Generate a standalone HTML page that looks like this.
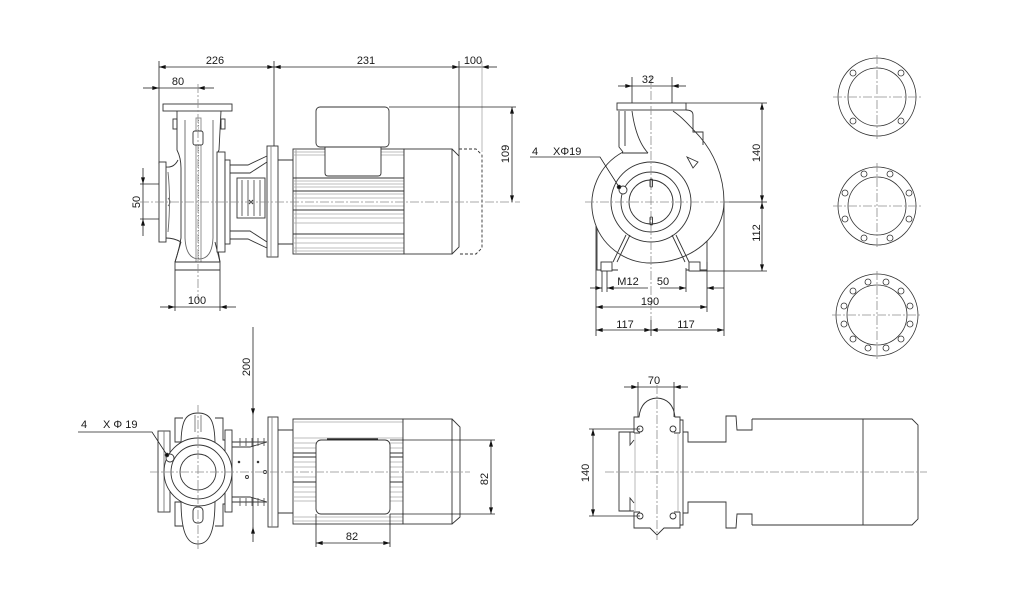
<!DOCTYPE html>
<html><head><meta charset="utf-8"><style>
html,body{margin:0;padding:0;background:#fff;}
svg{display:block;}
text{font-family:"Liberation Sans",sans-serif;font-size:11px;fill:#1a1a1a;}
.c{stroke:#8c8c8c;stroke-width:0.8;stroke-dasharray:9 2 2 2;fill:none;}
.d{stroke:#222;stroke-width:0.8;fill:none;}
.g{stroke:#a8a8a8;stroke-width:0.8;fill:none;}
.w{fill:#fff;}
</style></head><body>
<svg width="1034" height="611" viewBox="0 0 1034 611" xmlns="http://www.w3.org/2000/svg">
<defs>
<marker id="ar" viewBox="0 0 10 6" refX="10" refY="3" markerWidth="7" markerHeight="4" markerUnits="userSpaceOnUse" orient="auto-start-reverse"><path d="M0,0L10,3L0,6z" fill="#111"/></marker>
</defs>

<!-- ================= TOP-LEFT SIDE VIEW ================= -->
<g fill="none" stroke="#333" stroke-width="0.9">
  <line class="d" x1="159" y1="67" x2="274" y2="67" marker-start="url(#ar)" marker-end="url(#ar)"/>
  <line class="d" x1="274" y1="67" x2="459" y2="67" marker-start="url(#ar)" marker-end="url(#ar)"/>
  <line class="d" x1="459" y1="67" x2="482" y2="67"/>
  <line class="d" x1="497" y1="67" x2="482" y2="67" marker-end="url(#ar)"/>
  <line class="d" x1="159" y1="61" x2="159" y2="164"/>
  <line class="d" x1="274" y1="61" x2="274" y2="146"/>
  <line class="d" x1="459" y1="61" x2="459" y2="156"/>
  <line class="g" x1="482" y1="61" x2="482" y2="152"/>
  <line class="d" x1="143" y1="88" x2="159" y2="88" marker-end="url(#ar)"/>
  <line class="d" x1="159" y1="88" x2="198" y2="88"/>
  <line class="d" x1="214" y1="88" x2="198" y2="88" marker-end="url(#ar)"/>
  <line class="d" x1="143" y1="168" x2="143" y2="184" marker-end="url(#ar)"/>
  <line class="d" x1="143" y1="184" x2="143" y2="219"/>
  <line class="d" x1="143" y1="236" x2="143" y2="219" marker-end="url(#ar)"/>
  <line class="d" x1="140" y1="184" x2="160" y2="184"/>
  <line class="d" x1="140" y1="219" x2="160" y2="219"/>
  <line class="d" x1="160" y1="307" x2="175" y2="307" marker-end="url(#ar)"/>
  <line class="d" x1="175" y1="307" x2="220" y2="307"/>
  <line class="d" x1="236" y1="307" x2="220" y2="307" marker-end="url(#ar)"/>
  <line class="d" x1="175" y1="262" x2="175" y2="311"/>
  <line class="d" x1="220" y1="262" x2="220" y2="311"/>
  <line class="d" x1="389" y1="107" x2="516" y2="107"/>
  <line class="d" x1="512" y1="107" x2="512" y2="202" marker-start="url(#ar)" marker-end="url(#ar)"/>

  <rect x="163" y="104" width="69" height="7" class="w"/>
  <path d="M177,111 L177,150 Q181,158 181,168 L181,238 Q179,250 175,262"/>
  <path d="M221,111 L219,150 L218,152 M218,250 L220,262"/>
  <path d="M185,120 L185,238 Q186,259 199,259 Q212,259 213,238 L213,120" stroke="#666"/>
  <rect x="159" y="162" width="7" height="80" class="w"/>
  <path d="M166,167 Q174,168 178,160 M166,238 Q174,238 181,242"/>
  <path d="M168,172 Q171,200 168,232 M168,198 Q172,202 168,206" stroke="#666"/>
  <rect x="173" y="119" width="4" height="10"/>
  <rect x="221" y="119" width="4" height="10"/>
  <rect x="196" y="118" width="5" height="144" stroke="#888"/>
  <line x1="198.5" y1="120" x2="198.5" y2="260" stroke="#777" stroke-dasharray="1 1.5"/>
  <rect x="193" y="131" width="10" height="14" rx="2" class="w"/>
  <line x1="181" y1="242" x2="175" y2="262"/>
  <line x1="215" y1="242" x2="220" y2="262"/>
  <line x1="175" y1="262" x2="220" y2="262"/>
  <line x1="175" y1="270" x2="220" y2="270"/>
  <rect x="217" y="152" width="8" height="100" class="w"/>
  <rect x="225" y="160" width="5" height="84" class="w"/>
  <path d="M230,165 L248,165 L267,156 M230,173 L250,173 L267,162 M230,239 L248,239 L267,248 M230,231 L250,231 L267,242"/>
  <rect x="237" y="178" width="28" height="40"/>
  <path d="M242,180 L242,216 M248,180 L248,216 M254,180 L254,216 M260,180 L260,216" stroke="#555"/>
  <path d="M249,200 L253,204 M253,200 L249,204"/>
  <rect x="267" y="146" width="11" height="111" class="w"/>
  <line x1="271" y1="146" x2="271" y2="257" stroke="#888"/>
  <path d="M278,160 L293,160 M278,244 L293,244"/>
  <rect x="293" y="149" width="111" height="105"/>
  <line x1="296" y1="149" x2="296" y2="254" stroke="#999"/>
  <path class="g" d="M293,152 L325,152 M381,152 L404,152 M293,155 L325,155 M381,155 L404,155"/>
  <path d="M293,178 L404,178 M293,191 L404,191 M293,210 L404,210 M293,234 L404,234"/>
  <path class="g" d="M293,181 L404,181 M293,184 L404,184 M293,187 L404,187 M293,194 L404,194 M293,198 L404,198 M293,206 L404,206 M293,214 L404,214 M293,218 L404,218 M293,223 L404,223 M293,238 L404,238 M293,243 L404,243 M293,248 L404,248 M293,251 L404,251"/>
  <path d="M325,147 L325,173 Q325,176 328,176 L378,176 Q381,176 381,173 L381,147" class="w"/>
  <rect x="316" y="107" width="73" height="40" rx="4" class="w"/>
  <rect x="404" y="149" width="48" height="105" class="w"/>
  <path d="M452,149 L459,156 L459,247 L452,254"/>
  <path d="M459,149 L476,149 L482,155 L482,248 L476,254 L459,254" stroke-dasharray="3 2"/>
  <line class="c" x1="140" y1="202" x2="520" y2="202"/>
  <line class="c" x1="198" y1="84" x2="198" y2="300"/>
</g>
<text x="215" y="64" text-anchor="middle">226</text>
<text x="366" y="64" text-anchor="middle">231</text>
<text x="473" y="64" text-anchor="middle">100</text>
<text x="178" y="85" text-anchor="middle">80</text>
<text transform="translate(140,202) rotate(-90)" text-anchor="middle">50</text>
<text x="197" y="304" text-anchor="middle">100</text>
<text transform="translate(509,154) rotate(-90)" text-anchor="middle">109</text>

<!-- ================= TOP-MIDDLE FRONT VIEW ================= -->
<g fill="none" stroke="#333" stroke-width="0.9">
  <line class="d" x1="618" y1="86" x2="632" y2="86" marker-end="url(#ar)"/>
  <line class="d" x1="632" y1="86" x2="672" y2="86"/>
  <line class="d" x1="686" y1="86" x2="672" y2="86" marker-end="url(#ar)"/>
  <line class="d" x1="632" y1="77" x2="632" y2="104"/>
  <line class="d" x1="672" y1="77" x2="672" y2="104"/>
  <line class="d" x1="686" y1="103" x2="767" y2="103"/>
  <line class="d" x1="724" y1="202" x2="767" y2="202"/>
  <line class="d" x1="690" y1="271" x2="767" y2="271"/>
  <line class="d" x1="762" y1="103" x2="762" y2="202" marker-start="url(#ar)" marker-end="url(#ar)"/>
  <line class="d" x1="762" y1="202" x2="762" y2="271" marker-start="url(#ar)" marker-end="url(#ar)"/>
  <line class="d" x1="590" y1="288" x2="602" y2="288" marker-end="url(#ar)"/>
  <line class="d" x1="619" y1="288" x2="607" y2="288" marker-end="url(#ar)"/>
  <line class="d" x1="619" y1="288" x2="648" y2="288"/>
  <line class="d" x1="602" y1="262" x2="602" y2="292"/>
  <line class="d" x1="607" y1="262" x2="607" y2="292"/>
  <line class="d" x1="660" y1="288" x2="686" y2="288" marker-end="url(#ar)"/>
  <line class="d" x1="724" y1="288" x2="707" y2="288" marker-end="url(#ar)"/>
  <line class="d" x1="686" y1="268" x2="686" y2="292"/>
  <line class="d" x1="596" y1="307" x2="707" y2="307" marker-start="url(#ar)" marker-end="url(#ar)"/>
  <line class="d" x1="596" y1="330" x2="651" y2="330" marker-start="url(#ar)" marker-end="url(#ar)"/>
  <line class="d" x1="651" y1="330" x2="724" y2="330" marker-start="url(#ar)" marker-end="url(#ar)"/>
  <line class="d" x1="596" y1="226" x2="596" y2="336"/>
  <line class="d" x1="724" y1="202" x2="724" y2="336"/>
  <line class="d" x1="707" y1="262" x2="707" y2="312"/>
  <line class="d" x1="651" y1="320" x2="651" y2="336"/>

  <path d="M597,223 L597,270 L618,270 M707,223 L707,270 L686,270"/>
  <rect x="601" y="262" width="11" height="9" class="w"/>
  <rect x="689" y="262" width="11" height="9" class="w"/>
  <path d="M623,152 A59,59 0 0 0 651,263 A73,61 0 0 0 724,202 C724,175 713,152 700,137 C690,126 682,117 673,111" class="w"/>
  <path d="M619,111 L619,147 L623,152 M625,111 L625,146 M622,153 L648,153 M632,111 Q636,140 648,153"/>
  <path d="M686,110 Q693,110 693,115 L693,132 L703,132 L703,145"/>
  <rect x="617" y="103" width="69" height="7" class="w"/>
  <path d="M687,157 L698,162 L693,168 Z"/>
  <path d="M630,235 L617,262 M626,235 L613,262 M672,235 L685,262 M676,235 L689,262"/>
  <circle cx="651" cy="202" r="40"/>
  <circle cx="651" cy="202" r="30"/>
  <circle cx="651" cy="202" r="22"/>
  <circle cx="623" cy="190" r="4" class="w"/>
  <rect x="650" y="179" width="2.5" height="8" rx="1"/>
  <rect x="650" y="217" width="2.5" height="8" rx="1"/>
  <line class="c" x1="585" y1="202" x2="730" y2="202"/>
  <line class="c" x1="651" y1="76" x2="651" y2="320"/>
  <!-- leader on top -->
  <path class="d" d="M530,157 L600,157 L619,187"/>
  <circle cx="619" cy="187" r="1.8" fill="#111"/>
</g>
<text x="648" y="83" text-anchor="middle">32</text>
<text transform="translate(760,153) rotate(-90)" text-anchor="middle">140</text>
<text transform="translate(760,233) rotate(-90)" text-anchor="middle">112</text>
<text x="628" y="285" text-anchor="middle">M12</text>
<text x="663" y="285" text-anchor="middle">50</text>
<text x="650" y="305" text-anchor="middle">190</text>
<text x="625" y="328" text-anchor="middle">117</text>
<text x="686" y="328" text-anchor="middle">117</text>
<text x="532" y="155">4</text>
<text x="553" y="155">XΦ19</text>

<!-- ================= RIGHT FLANGES ================= -->
<g fill="none" stroke="#333" stroke-width="0.8">
  <circle cx="877" cy="97" r="39"/>
  <circle cx="877" cy="97" r="29"/>
  <circle cx="853" cy="73" r="3"/><circle cx="901" cy="73" r="3"/>
  <circle cx="853" cy="121" r="3"/><circle cx="901" cy="121" r="3"/>
  <line class="c" x1="833" y1="97" x2="921" y2="97"/>
  <line class="c" x1="877" y1="55" x2="877" y2="140"/>

  <circle cx="877" cy="206" r="39"/>
  <circle cx="877" cy="206" r="29"/>
  <circle cx="864" cy="174" r="3"/><circle cx="890" cy="174" r="3"/>
  <circle cx="845" cy="193" r="3"/><circle cx="909" cy="193" r="3"/>
  <circle cx="845" cy="219" r="3"/><circle cx="909" cy="219" r="3"/>
  <circle cx="864" cy="238" r="3"/><circle cx="890" cy="238" r="3"/>
  <line class="c" x1="833" y1="206" x2="921" y2="206"/>
  <line class="c" x1="877" y1="163" x2="877" y2="249"/>

  <circle cx="877" cy="315" r="41"/>
  <circle cx="877" cy="315" r="30"/>
  <circle cx="868" cy="282" r="3"/><circle cx="886" cy="282" r="3"/>
  <circle cx="853" cy="291" r="3"/><circle cx="901" cy="291" r="3"/>
  <circle cx="844" cy="306" r="3"/><circle cx="910" cy="306" r="3"/>
  <circle cx="844" cy="324" r="3"/><circle cx="910" cy="324" r="3"/>
  <circle cx="853" cy="339" r="3"/><circle cx="901" cy="339" r="3"/>
  <circle cx="868" cy="348" r="3"/><circle cx="886" cy="348" r="3"/>
  <line class="c" x1="832" y1="315" x2="922" y2="315"/>
  <line class="c" x1="877" y1="271" x2="877" y2="360"/>
</g>

<!-- ================= BOTTOM-LEFT TOP VIEW ================= -->
<g fill="none" stroke="#333" stroke-width="0.9">
  <line class="d" x1="253" y1="327" x2="253" y2="415" marker-end="url(#ar)"/>
  <line class="d" x1="253" y1="415" x2="253" y2="527"/>
  <line class="d" x1="253" y1="542" x2="253" y2="527" marker-end="url(#ar)"/>

  <path d="M181,442 L175,442 L175,418 L183,418 M215,418 L223,418 L223,440 L229,440"/>
  <path d="M181,502 L175,502 L175,526 L183,526 M215,526 L223,526 L223,504 L229,504"/>
  <rect x="158" y="431" width="12" height="81" class="w"/>
  <line x1="164" y1="431" x2="164" y2="512" stroke="#777"/>
  <rect x="225" y="430" width="7" height="82" class="w"/>
  <path d="M181,445 C181,420 186,413 198,413 C210,413 215,420 215,445" class="w"/>
  <path d="M181,500 C181,530 186,544 198,544 C210,544 215,530 215,500" class="w"/>
  <path d="M195,415 L195,432 M201,415 L201,432" stroke="#777"/>
  <rect x="193" y="507" width="10" height="16" rx="4"/>
  <circle cx="198" cy="472" r="34" class="w"/>
  <circle cx="198" cy="472" r="27"/>
  <circle cx="198" cy="472" r="18"/>
  <circle cx="170" cy="458" r="4" class="w"/>
  <path d="M232,442 L267,442 M232,447 L250,447 L267,442 M232,502 L267,502 M232,497 L250,497 L267,502"/>
  <path d="M240,438 L240,446 M246,438 L246,446 M252,438 L252,446 M258,438 L258,446 M264,438 L264,446 M240,498 L240,506 M246,498 L246,506 M252,498 L252,506 M258,498 L258,506 M264,498 L264,506" stroke="#555"/>
  <circle cx="239" cy="462" r="0.8" fill="#333"/>
  <circle cx="258" cy="462" r="0.8" fill="#333"/>
  <circle cx="247" cy="477" r="1.5"/>
  <circle cx="265" cy="472" r="1.5"/>
  <rect x="268" y="417" width="10" height="110" class="w"/>
  <line x1="272" y1="417" x2="272" y2="527" stroke="#888"/>
  <path d="M278,430 L293,430 M278,513 L293,513"/>
  <rect x="293" y="419" width="110" height="105"/>
  <path class="g" d="M293,422 L403,422 M293,438 L403,438 M293,443 L403,443 M293,448 L403,448 M293,462 L403,462 M293,467 L403,467 M293,477 L403,477 M293,487 L403,487 M293,492 L403,492 M293,497 L403,497 M293,501 L403,501 M293,517 L403,517 M293,521 L403,521"/>
  <path d="M293,453 L403,453 M293,457 L403,457 M293,482 L403,482"/>
  <rect x="316" y="440" width="74" height="74" rx="5" class="w"/>
  <line x1="327" y1="439" x2="378" y2="439" stroke="#222" stroke-width="1.2"/>
  <rect x="403" y="419" width="49" height="105" class="w"/>
  <path d="M452,419 L460,427 L460,517 L452,524"/>
  <line class="d" x1="390" y1="440" x2="495" y2="440"/>
  <line class="d" x1="390" y1="514" x2="495" y2="514"/>
  <line class="d" x1="491" y1="440" x2="491" y2="514" marker-start="url(#ar)" marker-end="url(#ar)"/>
  <line class="d" x1="316" y1="514" x2="316" y2="547"/>
  <line class="d" x1="390" y1="514" x2="390" y2="547"/>
  <line class="d" x1="316" y1="543" x2="390" y2="543" marker-start="url(#ar)" marker-end="url(#ar)"/>
  <line class="c" x1="150" y1="472" x2="470" y2="472"/>
  <line class="c" x1="198" y1="405" x2="198" y2="550"/>
  <!-- leader on top -->
  <path class="d" d="M78,432 L152,432 L167,455"/>
  <circle cx="167" cy="455" r="1.8" fill="#111"/>
</g>
<text transform="translate(250,367) rotate(-90)" text-anchor="middle">200</text>
<text x="81" y="428">4</text>
<text x="103" y="428">X Φ 19</text>
<text x="352" y="540" text-anchor="middle">82</text>
<text transform="translate(488,479) rotate(-90)" text-anchor="middle">82</text>

<!-- ================= BOTTOM-RIGHT VIEW ================= -->
<g fill="none" stroke="#333" stroke-width="0.9">
  <line class="d" x1="624" y1="387" x2="638" y2="387" marker-end="url(#ar)"/>
  <line class="d" x1="638" y1="387" x2="674" y2="387"/>
  <line class="d" x1="688" y1="387" x2="674" y2="387" marker-end="url(#ar)"/>
  <line class="d" x1="638" y1="382" x2="638" y2="417"/>
  <line class="d" x1="674" y1="382" x2="674" y2="417"/>
  <line class="d" x1="589" y1="429" x2="640" y2="429"/>
  <line class="d" x1="589" y1="516" x2="640" y2="516"/>
  <line class="d" x1="593" y1="429" x2="593" y2="516" marker-start="url(#ar)" marker-end="url(#ar)"/>
  <path d="M634,433 L634,417 L639,417 Q641,399 657,398 Q673,399 675,417 L680,417 L680,433"/>
  <path d="M634,512 L634,528 L650,528 L657,535 L664,528 L680,528 L680,512"/>
  <path d="M634,433 L640,433 M674,433 L680,433 M634,512 L640,512 M674,512 L680,512"/>
  <circle cx="640" cy="429" r="3"/><circle cx="673" cy="429" r="3"/>
  <circle cx="640" cy="516" r="3"/><circle cx="673" cy="516" r="3"/>
  <path class="g" d="M635,433 L635,512 M678,433 L678,512"/>
  <path d="M680,420 L683,420 L683,525 L680,525"/>
  <path d="M634,432 L619,432 L619,511 L634,511 M630,432 L630,445 L634,440 M630,511 L630,498 L634,503"/>
  <path d="M683,432 L688,432 L688,442 L726,442 L726,416 L736,416 L737,430 L752,430 L752,419"/>
  <path d="M683,513 L688,513 L688,502 L726,502 L726,528 L736,528 L737,514 L752,514 L752,525"/>
  <path d="M752,419 L912,419 L918,425 L918,519 L912,525 L752,525"/>
  <line x1="863" y1="419" x2="863" y2="525"/>
  <line class="c" x1="605" y1="472" x2="927" y2="472"/>
  <line class="c" x1="657" y1="385" x2="657" y2="540"/>
</g>
<text x="654" y="384" text-anchor="middle">70</text>
<text transform="translate(589,473) rotate(-90)" text-anchor="middle">140</text>
</svg>
</body></html>
